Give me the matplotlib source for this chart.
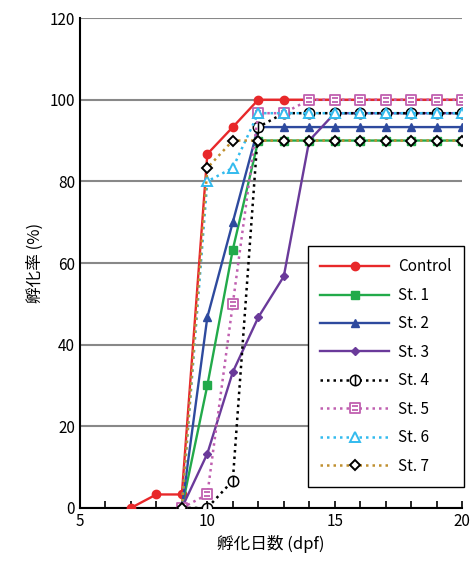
import matplotlib
matplotlib.use('Agg')
import matplotlib.pyplot as plt
from matplotlib.path import Path
import numpy as np

plt.rcParams['font.family'] = ['Noto Sans CJK JP', 'DejaVu Sans']

days = list(range(7, 21))
ctrl_x = days
ctrl = [0, 3.3, 3.3, 86.7, 93.3, 100, 100, 100, 100, 100, 100, 100, 100, 100]

sx = list(range(9, 21))
st1 = [0, 30, 63.3, 90, 90, 90, 90, 90, 90, 90, 90, 90]
st2 = [0, 46.7, 70, 93.3, 93.3, 93.3, 93.3, 93.3, 93.3, 93.3, 93.3, 93.3]
st3 = [0, 13.3, 33.3, 46.7, 56.7, 90, 96.7, 96.7, 96.7, 96.7, 96.7, 96.7]
st4 = [0, 0, 6.7, 93.3, 96.7, 96.7, 96.7, 96.7, 96.7, 96.7, 96.7, 96.7]
st5 = [0, 3.3, 50, 96.7, 96.7, 100, 100, 100, 100, 100, 100, 100]
st6 = [0, 80, 83.3, 96.7, 96.7, 96.7, 96.7, 96.7, 96.7, 96.7, 96.7, 96.7]
st7 = [0, 83.3, 90, 90, 90, 90, 90, 90, 90, 90, 90, 90]

# custom markers: circle with vertical bar, square with two bars
circ = Path.unit_circle()
circ_bar = Path(np.vstack([circ.vertices, [[0, -1], [0, 1]]]),
                np.concatenate([circ.codes, [Path.MOVETO, Path.LINETO]]))
sq = Path([[-1, -1], [1, -1], [1, 1], [-1, 1], [-1, -1]],
          [Path.MOVETO, Path.LINETO, Path.LINETO, Path.LINETO, Path.CLOSEPOLY])
sq_bar = Path(np.vstack([sq.vertices, [[-0.6, 0.3], [0.6, 0.3], [-0.6, -0.3], [0.6, -0.3]]]),
              np.concatenate([sq.codes, [Path.MOVETO, Path.LINETO, Path.MOVETO, Path.LINETO]]))

dots = (0, (1, 1.6))

fig = plt.figure(figsize=(4.73, 5.65), dpi=100)
ax = fig.add_axes([0.169, 0.101, 0.808, 0.867])

ax.plot(ctrl_x, ctrl, '-', color='#e8282a', lw=1.7, marker='o', ms=6, label='Control', zorder=3)
ax.plot(sx, st1, '-', color='#22aa4a', lw=1.7, marker='s', ms=5.5, label='St. 1', zorder=3)
ax.plot(sx, st2, '-', color='#2e4a9e', lw=1.7, marker='^', ms=6, label='St. 2', zorder=3)
ax.plot(sx, st3, '-', color='#6a3a9a', lw=1.7, marker='D', ms=4.5, label='St. 3', zorder=3)
ax.plot(sx, st4, ls=dots, color='black', lw=1.8, marker=circ_bar, ms=7.5, mfc='white', mec='black',
        mew=1.1, label='St. 4', zorder=4)
ax.plot(sx, st5, ls=dots, color='#c060b0', lw=1.8, marker=sq_bar, ms=7.5, mfc='white', mec='#c060b0',
        mew=1.3, label='St. 5', zorder=4)
ax.plot(sx, st6, ls=dots, color='#33bbee', lw=1.8, marker='^', ms=7, mfc='white', mec='#33bbee',
        mew=1.4, label='St. 6', zorder=4)
ax.plot(sx, st7, ls=dots, color='#c09030', lw=1.8, marker='D', ms=5.5, mfc='white', mec='black',
        mew=1.4, label='St. 7', zorder=4)

ax.set_xlim(5, 20)
ax.set_ylim(0, 120)
ax.set_xticks([5, 10, 15, 20])
ax.set_xticks(np.arange(5, 21, 1), minor=True)
ax.set_yticks(np.arange(0, 121, 20))
ax.tick_params(axis='x', which='both', direction='in', length=5, width=1.2)
ax.tick_params(axis='y', length=0)
ax.tick_params(labelsize=11)
ax.yaxis.grid(True, color='#888888', lw=1.5)
ax.set_axisbelow(True)
for s in ['top', 'right']:
    ax.spines[s].set_visible(False)
ax.spines['left'].set_linewidth(1.5)
ax.spines['bottom'].set_linewidth(1.5)
ax.set_xlabel('孵化日数 (dpf)', fontsize=12)
ax.set_ylabel('孵化率 (%)', fontsize=12)

leg = ax.legend(loc='lower right', bbox_to_anchor=(1.005, 0.043), fontsize=11, handlelength=4.5,
                fancybox=False, edgecolor='black', framealpha=1, labelspacing=0.75,
                borderpad=0.8, handletextpad=0.6, borderaxespad=0)
leg.get_frame().set_linewidth(1)

fig.savefig('out.png', dpi=100)
